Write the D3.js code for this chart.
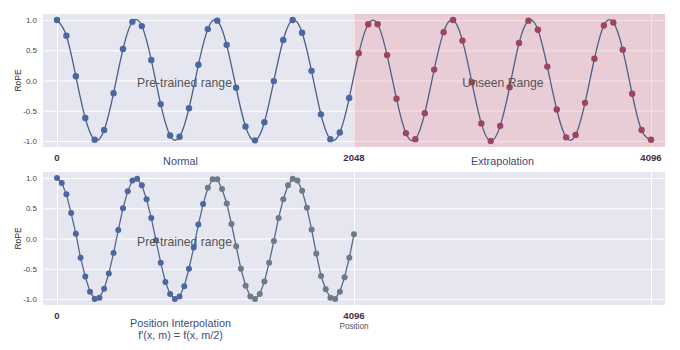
<!DOCTYPE html>
<html><head><meta charset="utf-8">
<script src="https://cdn.jsdelivr.net/npm/d3@7"></script>
<style>body{margin:0;background:#fff} svg{display:block} text{font-family:"Liberation Sans",Arial,Helvetica,sans-serif}</style>
</head><body><svg id="c" width="680" height="350"></svg>
<script>
// Sample positions (same 64 positions used in both panels)
const positions = [0,65,130,195,260,325,390,455,520,585,650,715,780,845,910,975,1040,1105,1170,1235,1300,1365,1430,1495,1560,1625,1690,1755,1820,1885,1950,2015,2081,2146,2211,2276,2341,2406,2471,2536,2601,2666,2731,2796,2861,2926,2991,3056,3121,3186,3251,3316,3381,3446,3511,3576,3641,3706,3771,3836,3901,3966,4031,4096];
// Top panel (Normal / Extrapolation) RoPE values
const topValues = [1.00,0.74,0.07,-0.62,-0.98,-0.82,-0.21,0.52,0.97,0.90,0.34,-0.39,-0.91,-0.93,-0.46,0.26,0.85,0.99,0.59,-0.12,-0.76,-0.99,-0.69,-0.01,0.67,1.00,0.79,0.16,-0.56,-0.97,-0.86,-0.29,
                   0.45,0.93,0.93,0.42,-0.30,-0.87,-0.97,-0.54,0.18,0.80,1.00,0.66,-0.03,-0.71,-1.00,-0.75,-0.11,0.62,0.99,0.84,0.23,-0.48,-0.94,-0.90,-0.37,0.36,0.91,0.96,0.51,-0.22,-0.82,-0.98];
// Bottom panel (Position Interpolation) values
const bottomValues = [1.00,0.92,0.73,0.42,0.08,-0.32,-0.63,-0.88,-1.00,-0.98,-0.83,-0.58,-0.24,0.14,0.50,0.78,0.96,0.99,0.88,0.65,0.34,-0.03,-0.40,-0.72,-0.92,-1.00,-0.96,-0.79,-0.50,-0.15,0.23,0.57,
                      0.84,0.98,0.98,0.82,0.58,0.24,-0.13,-0.50,-0.78,-0.96,-1.00,-0.92,-0.71,-0.40,-0.04,0.34,0.65,0.88,0.99,0.96,0.79,0.51,0.15,-0.25,-0.62,-0.84,-0.98,-1.00,-0.88,-0.64,-0.32,0.07];
const splitAt = 2048;
const yTicks = [-1, -0.5, 0, 0.5, 1];
const topXTicks = [0, 2048, 4096];
const topXLabels = ["0", "2048", "4096"];
const bottomXTicks = [0, 4096, 8192];
const bottomXLabels = ["0", "4096"];

const svg = d3.select("#c");
const L = 43, R = 665;
const xTop = d3.scaleLinear().domain([-96.5, 4192.5]).range([L, R]);
const xBot = d3.scaleLinear().domain([-193, 8385]).range([L, R]);
const yTop = d3.scaleLinear().domain([-1.1, 1.1]).range([147, 14]);
const yBot = d3.scaleLinear().domain([-1.1, 1.1]).range([305, 172]);

function panel(x, y, xTicks) {
  const g = svg.append("g");
  const [y0, y1] = y.range();
  g.append("rect").attr("x", L).attr("y", y1).attr("width", R - L).attr("height", y0 - y1).attr("fill", "#e5e6ef");
  const hg = g.append("g").attr("transform", `translate(${L},0)`)
    .call(d3.axisLeft(y).tickValues(yTicks).tickSize(-(R - L)).tickFormat(""));
  hg.select(".domain").remove();
  hg.selectAll("line").attr("stroke", "#fff").attr("stroke-width", 1);
  const vg = g.append("g").attr("transform", `translate(0,${y0})`)
    .call(d3.axisBottom(x).tickValues(xTicks).tickSize(-(y0 - y1)).tickFormat(""));
  vg.select(".domain").remove();
  vg.selectAll("line").attr("stroke", "#fff").attr("stroke-width", 1);
  const ya = g.append("g").attr("transform", `translate(${L},0)`)
    .call(d3.axisLeft(y).tickValues(yTicks).tickSize(0).tickPadding(6).tickFormat(d => d.toFixed(1)));
  ya.select(".domain").remove();
  ya.selectAll("text").attr("font-size", 8).attr("fill", "#444").attr("font-family", '"Liberation Sans",Arial,sans-serif');
  g.append("text").attr("transform", `translate(${21},${(y0 + y1) / 2}) rotate(-90)`)
    .attr("text-anchor", "middle").attr("font-size", 8.5).attr("fill", "#333").text("RoPE");
  return g;
}

// ---------- Top panel ----------
const gt = panel(xTop, yTop, topXTicks);
gt.append("rect").attr("x", xTop(splitAt)).attr("y", 14).attr("width", R - xTop(splitAt)).attr("height", 133)
  .attr("fill", "rgb(240,150,160)").attr("fill-opacity", 0.3);
const topData = positions.map((p, i) => ({p, v: topValues[i]}));
gt.append("path").datum(topData)
  .attr("d", d3.line().x(d => xTop(d.p)).y(d => yTop(d.v)).curve(d3.curveNatural))
  .attr("fill", "none").attr("stroke", "#4d5f88").attr("stroke-width", 1.3);
gt.selectAll("circle").data(topData).join("circle")
  .attr("cx", d => xTop(d.p)).attr("cy", d => yTop(d.v)).attr("r", 3.2)
  .attr("fill", d => d.p < splitAt ? "#4c67a0" : "#9c4560");
gt.append("text").attr("x", xTop(1024) - 21).attr("y", 87).attr("text-anchor", "middle")
  .attr("font-size", 12.2).attr("fill", "#555").text("Pre-trained range");
gt.append("text").attr("x", xTop(3072) + 0.5).attr("y", 87).attr("text-anchor", "middle")
  .attr("font-size", 12.2).attr("fill", "#555").text("Unseen Range");
gt.selectAll("text.xl").data(topXTicks).join("text").attr("class", "xl")
  .attr("x", d => xTop(d)).attr("y", 161).attr("text-anchor", "middle")
  .attr("font-size", 9.6).attr("font-weight", "bold").attr("fill", "#4a2c45")
  .text((d, i) => topXLabels[i]);
gt.append("text").attr("x", xTop(1024) - 25).attr("y", 165).attr("text-anchor", "middle")
  .attr("font-size", 10.8).attr("fill", "#3e4d78").text("Normal");
gt.append("text").attr("x", xTop(3072)).attr("y", 165).attr("text-anchor", "middle")
  .attr("font-size", 10.8).attr("fill", "#3e4d78").text("Extrapolation");

// ---------- Bottom panel ----------
const gb = panel(xBot, yBot, bottomXTicks);
const botData = positions.map((p, i) => ({p, v: bottomValues[i]}));
gb.append("path").datum(botData)
  .attr("d", d3.line().x(d => xBot(d.p)).y(d => yBot(d.v)))
  .attr("fill", "none").attr("stroke", "#56698f").attr("stroke-width", 1.3);
gb.selectAll("circle").data(botData).join("circle")
  .attr("cx", d => xBot(d.p)).attr("cy", d => yBot(d.v)).attr("r", 3)
  .attr("fill", d => d.p < splitAt ? "#4c67a0" : "#6b7b89");
gb.append("text").attr("x", xBot(2048) - 21).attr("y", 246).attr("text-anchor", "middle")
  .attr("font-size", 12.2).attr("fill", "#555").text("Pre-trained range");
gb.selectAll("text.xl").data(bottomXLabels).join("text").attr("class", "xl")
  .attr("x", (d, i) => xBot(bottomXTicks[i])).attr("y", 319).attr("text-anchor", "middle")
  .attr("font-size", 9.6).attr("font-weight", "bold").attr("fill", "#4a2c45")
  .text(d => d);
gb.append("text").attr("x", xBot(4096)).attr("y", 329).attr("text-anchor", "middle")
  .attr("font-size", 8.2).attr("fill", "#555").text("Position");
gb.append("text").attr("x", xBot(2048) - 25).attr("y", 327).attr("text-anchor", "middle")
  .attr("font-size", 10.8).attr("fill", "#3e4d78").text("Position Interpolation");
gb.append("text").attr("x", xBot(2048) - 25).attr("y", 339).attr("text-anchor", "middle")
  .attr("font-size", 10.8).attr("fill", "#3e4d78").text("f'(x, m) = f(x, m/2)");
</script></body></html>
